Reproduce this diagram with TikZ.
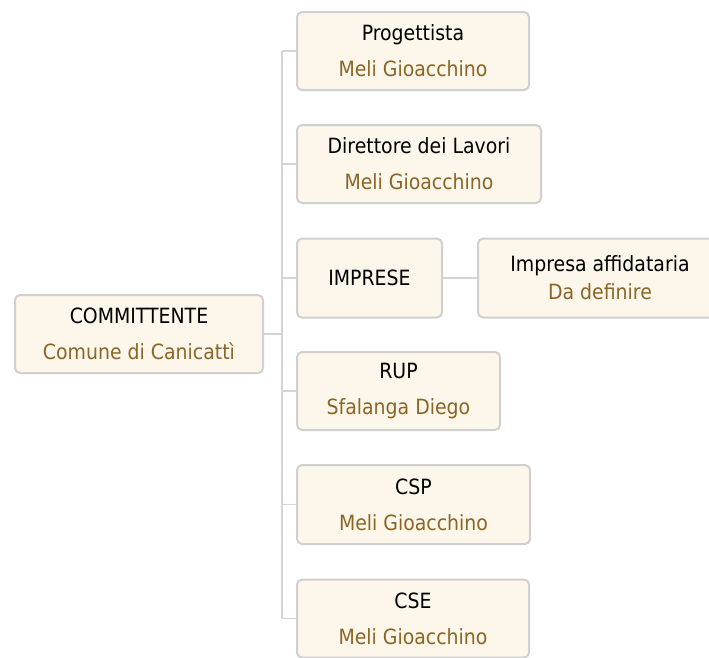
\documentclass[tikz,border=0pt]{standalone}
\usepackage{fontspec}
\setmainfont{DejaVu Sans Condensed}

\definecolor{boxfill}{RGB}{253,246,234}
\definecolor{boxline}{RGB}{208,208,208}
\definecolor{namebrown}{RGB}{139,101,38}
\definecolor{linkgray}{RGB}{212,212,212}

\tikzset{
	orgbox/.style={draw=boxline, fill=boxfill, line width=2pt, rounded corners=5pt, inner sep=0pt, align=center, font=\fontsize{21}{23}\selectfont},
	link/.style={draw=linkgray, line width=1.5pt},
}
\newcommand{\who}[1]{\textcolor{namebrown}{#1}}

\begin{document}
\begin{tikzpicture}[x=1pt, y=-1pt]
		\useasboundingbox (0,0) rectangle (709,657);
		\clip (0,0) rectangle (709,657);

		\node[orgbox, minimum width=248pt, minimum height=78pt] (comm) at (139,334) {COMMITTENTE\\[13pt]\who{Comune di Canicattì}};

		\node[orgbox, minimum width=232pt, minimum height=78pt] (prog) at (413,51) {Progettista\\[13pt]\who{Meli Gioacchino}};
		\node[orgbox, minimum width=244pt, minimum height=78pt] (dir) at (419,164) {Direttore dei Lavori\\[13pt]\who{Meli Gioacchino}};
		\node[orgbox, minimum width=145pt, minimum height=79pt] (imp) at (369.5,278) {IMPRESE};
		\node[orgbox, minimum width=244pt, minimum height=79pt] (aff) at (600,278) {Impresa affidataria\\[5pt]\who{Da definire}};
		\node[orgbox, minimum width=203pt, minimum height=78pt] (rup) at (398.5,391) {RUP\\[13pt]\who{Sfalanga Diego}};
		\node[orgbox, minimum width=233pt, minimum height=79pt] (csp) at (413.5,504.5) {CSP\\[13pt]\who{Meli Gioacchino}};
		\node[orgbox, minimum width=232pt, minimum height=78pt] (cse) at (413,618.5) {CSE\\[13pt]\who{Meli Gioacchino}};

		% trunk
		\coordinate (trunk) at (282,0);
		\draw[link] (comm.east) -- (comm.east -| trunk);
		\draw[link] (prog.west -| trunk) -- (cse.west -| trunk);
		\foreach \n in {prog,dir,imp,rup,csp,cse}
			\draw[link] (\n.west) -- (\n.west -| trunk);
		\draw[link] (imp.east) -- (aff.west);
	\end{tikzpicture}
\end{document}
